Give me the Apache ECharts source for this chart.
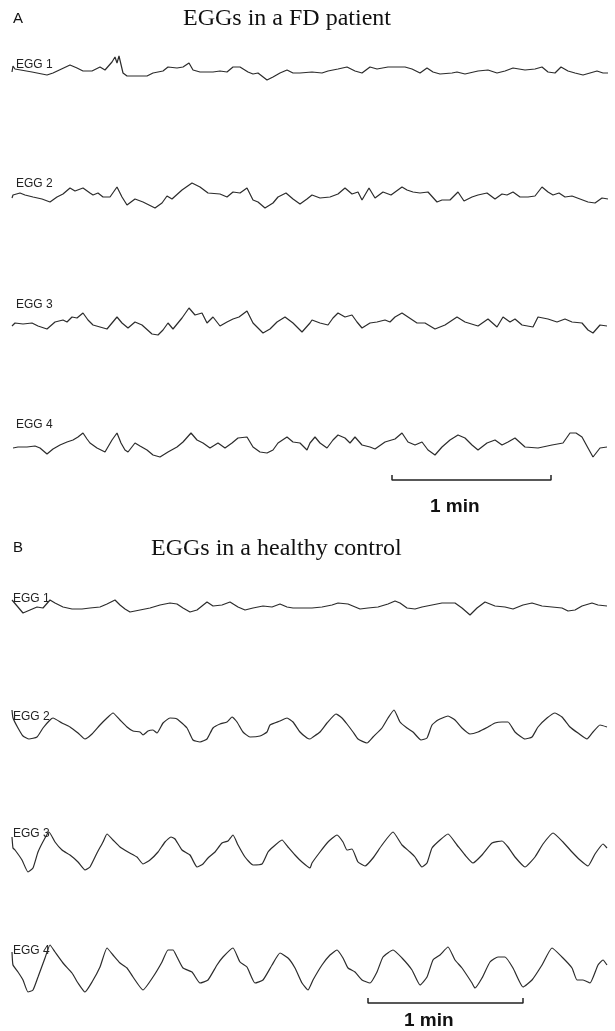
<!DOCTYPE html>
<html>
<head>
<meta charset="utf-8">
<title>EGGs</title>
<script src="https://cdn.jsdelivr.net/npm/echarts@6.0.0/dist/echarts.min.js"></script>
<style>
  html, body { margin: 0; padding: 0; background: #fff; }
  #chart { width: 615px; height: 1031px; }
</style>
</head>
<body>
<div id="chart"></div>
<script>
// traces: [time, amplitude] (time in trace units, 0..596)
var fdEgg1 = [[0,0],[1,6],[3,3],[20,0],[35,-3],[41,-1],[58,7],[65,4],[71,1],[80,1],[88,5],[93,2],[100,10],[103,15],[105,9],[107,16],[111,-1],[115,-4],[135,-4],[141,-1],[151,1],[156,5],[165,4],[171,5],[177,9],[181,2],[188,0],[201,0],[208,1],[215,0],[221,5],[228,5],[236,0],[241,-2],[246,-1],[255,-8],[261,-5],[268,-1],[275,2],[281,-1],[288,-1],[300,0],[310,-1],[316,1],[326,3],[335,5],[343,1],[350,-1],[358,5],[365,3],[376,5],[393,5],[400,3],[408,-1],[415,4],[421,0],[428,-2],[440,-1],[445,0],[453,-2],[466,1],[476,2],[485,-1],[493,1],[501,4],[513,2],[523,3],[530,5],[536,0],[543,-1],[549,5],[556,1],[563,-1],[571,-3],[578,-1],[585,1],[591,-1],[596,-1]];
var fdEgg2 = [[0,-1],[1,2],[3,3],[8,4],[13,2],[21,0],[30,-2],[38,-5],[45,0],[51,3],[58,9],[63,6],[71,9],[78,4],[81,2],[86,4],[91,0],[98,0],[105,10],[110,0],[115,-8],[123,-2],[131,-5],[143,-11],[150,-6],[155,1],[160,-2],[170,7],[180,14],[188,10],[196,4],[208,3],[215,0],[221,5],[228,4],[235,9],[241,-3],[246,-5],[253,-11],[261,-6],[266,0],[274,4],[281,-2],[288,-7],[295,-2],[300,2],[308,-1],[318,0],[326,3],[333,9],[340,3],[346,5],[350,-3],[357,9],[363,-1],[371,5],[379,2],[390,10],[395,7],[401,5],[408,4],[416,5],[425,-5],[430,-3],[438,-3],[446,5],[452,-4],[460,0],[466,2],[475,4],[483,-2],[490,3],[495,2],[501,5],[508,0],[516,0],[523,1],[530,10],[536,5],[541,2],[547,4],[553,0],[560,1],[568,-2],[576,-5],[583,-6],[590,-1],[596,-2]];
var fdEgg3 = [[0,-1],[1,0],[3,2],[11,1],[20,2],[26,-1],[35,-4],[43,3],[51,5],[55,3],[60,8],[65,7],[71,12],[76,5],[81,0],[88,-2],[95,-4],[105,8],[110,2],[116,-3],[123,3],[130,0],[140,-9],[146,-10],[151,-5],[156,2],[161,-4],[170,7],[177,17],[183,10],[190,12],[195,2],[201,8],[208,-1],[215,3],[221,6],[227,8],[235,14],[241,2],[251,-8],[258,-4],[265,3],[273,8],[281,2],[290,-7],[298,2],[300,5],[308,2],[316,0],[321,7],[326,12],[333,8],[340,10],[345,3],[350,-3],[358,2],[365,3],[373,5],[378,3],[383,8],[390,12],[396,8],[405,2],[413,2],[423,-4],[433,0],[445,8],[453,3],[466,-1],[476,6],[485,-2],[491,8],[498,3],[503,6],[510,0],[521,-2],[526,8],[536,6],[545,3],[553,6],[560,3],[570,2],[576,-5],[581,-8],[588,0],[595,-1]];
var fdEgg4 = [[1,0],[6,1],[15,1],[23,2],[28,0],[35,-6],[41,-1],[48,3],[55,6],[61,8],[66,11],[71,15],[75,9],[78,5],[85,0],[93,-4],[100,8],[105,15],[109,5],[113,-2],[116,-4],[123,5],[128,2],[135,-2],[141,-7],[148,-9],[156,-4],[165,1],[171,6],[179,15],[185,8],[191,5],[198,0],[206,5],[213,0],[220,5],[226,10],[235,11],[241,1],[248,-4],[255,-5],[261,-2],[266,5],[275,11],[281,6],[288,5],[295,-2],[298,5],[303,11],[308,5],[315,0],[321,8],[326,13],[333,10],[338,5],[343,11],[350,3],[358,1],[363,-1],[373,6],[383,9],[390,15],[396,6],[403,3],[410,6],[416,-2],[423,-7],[430,1],[438,8],[446,13],[453,10],[460,3],[466,-2],[475,5],[483,8],[490,3],[496,6],[503,10],[513,1],[526,0],[540,3],[551,5],[558,15],[564,15],[570,11],[576,0],[581,-9],[588,0],[595,1]];

var hcEgg1 = [[0,8],[11,-5],[25,1],[31,0],[38,8],[43,5],[51,1],[60,-1],[70,-1],[78,0],[88,1],[95,4],[103,8],[108,3],[113,-1],[118,-4],[128,-2],[138,0],[148,3],[158,5],[165,4],[171,0],[178,-4],[185,-2],[190,2],[195,6],[201,2],[210,3],[218,6],[226,1],[233,-2],[241,0],[251,2],[260,1],[268,4],[275,1],[281,0],[290,0],[300,0],[310,1],[320,3],[326,5],[336,4],[348,-1],[356,0],[366,1],[376,4],[383,7],[388,5],[395,0],[403,-1],[410,1],[420,3],[430,5],[443,5],[450,0],[458,-7],[465,0],[473,6],[483,2],[493,1],[501,-1],[511,3],[520,5],[530,2],[540,1],[550,0],[556,-3],[563,-2],[570,2],[580,5],[586,3],[595,2]];
var hcEgg2 = [[0,17],[1,9],[6,-1],[11,-9],[17,-12],[25,-10],[31,-1],[38,7],[41,9],[50,4],[58,0],[66,-6],[73,-12],[80,-7],[88,2],[95,9],[101,14],[108,7],[115,0],[121,-4],[128,-5],[131,-8],[136,-4],[141,-3],[145,-6],[151,4],[158,9],[165,8],[175,-1],[181,-13],[188,-15],[195,-12],[201,-1],[208,3],[215,5],[220,10],[225,5],[231,-5],[238,-10],[248,-9],[255,-5],[258,2],[268,6],[275,9],[281,5],[288,-5],[295,-11],[298,-12],[301,-10],[308,-5],[315,4],[324,13],[330,9],[335,3],[341,-5],[346,-12],[355,-16],[361,-10],[370,-1],[376,9],[382,17],[388,5],[395,-1],[401,-5],[409,-13],[415,-11],[420,2],[426,7],[436,11],[443,7],[450,-1],[458,-7],[466,-5],[476,0],[483,4],[490,5],[496,5],[503,-5],[513,-12],[520,-10],[526,0],[535,9],[543,14],[550,10],[558,0],[566,-6],[575,-12],[581,-5],[588,2],[595,0]];
var hcEgg3 = [[0,15],[1,4],[3,2],[10,-8],[16,-20],[21,-16],[26,0],[33,14],[37,20],[43,10],[50,2],[58,-3],[66,-10],[73,-18],[78,-15],[85,-1],[91,10],[95,18],[101,12],[108,5],[116,0],[125,-5],[131,-12],[138,-8],[146,0],[153,10],[159,15],[163,13],[170,2],[178,-3],[185,-15],[191,-12],[196,-6],[203,0],[210,9],[216,11],[221,17],[226,7],[233,-5],[241,-13],[250,-12],[256,0],[261,5],[270,12],[276,5],[283,-3],[290,-10],[298,-16],[300,-11],[308,0],[316,10],[325,17],[331,10],[335,2],[340,3],[346,-10],[353,-14],[361,-6],[370,7],[381,20],[390,7],[398,0],[403,-5],[410,-15],[415,-11],[420,4],[428,12],[436,18],[445,7],[453,-3],[461,-11],[470,-3],[480,9],[490,11],[496,5],[503,-5],[513,-15],[523,-5],[531,8],[541,19],[551,10],[560,0],[568,-8],[576,-14],[583,-2],[591,8],[595,4]];
var hcEgg4 = [[0,18],[1,5],[6,-2],[11,-10],[16,-22],[21,-20],[26,-7],[33,12],[38,25],[43,18],[51,7],[60,-3],[66,-13],[73,-22],[80,-12],[88,3],[95,22],[101,15],[108,7],[115,2],[121,-7],[131,-20],[141,-7],[150,8],[156,20],[161,20],[165,13],[171,2],[180,-2],[188,-13],[196,-10],[205,5],[211,13],[221,22],[228,8],[235,3],[243,-13],[251,-10],[260,5],[268,17],[276,12],[283,2],[290,-13],[296,-20],[301,-10],[310,5],[318,15],[325,20],[331,12],[336,2],[343,-2],[350,-10],[358,-13],[365,-2],[371,13],[381,20],[390,12],[400,0],[408,-15],[415,-7],[421,10],[428,15],[436,23],[443,10],[450,2],[460,-13],[463,-18],[470,-8],[478,8],[486,13],[493,13],[501,2],[511,-17],[520,-10],[530,5],[540,22],[550,13],[560,2],[565,-10],[571,-10],[578,-13],[586,5],[591,10],[595,5]];

var channelNames = ['EGG 1', 'EGG 2', 'EGG 3', 'EGG 4'];
var panelTitles = ['EGGs in a FD patient', 'EGGs in a healthy control'];
var panelLetters = ['A', 'B'];
var scaleLabel = '1 min';
// 1 min scale bar, [start, end] in trace time units
var scaleBarA = [380, 539];
var scaleBarB = [356, 511];

// layout (pixels)
var traceBase = [72, 197, 325, 448, 608, 727, 852, 970];
var labelY = [66, 185, 306, 426, 600, 718, 835, 952];
var halfH = 30;

var traces = [fdEgg1, fdEgg2, fdEgg3, fdEgg4, hcEgg1, hcEgg2, hcEgg3, hcEgg4];

var grids = [], xAxes = [], yAxes = [], series = [], graphics = [];

traces.forEach(function (d, i) {
    grids.push({left: 12, width: 596, top: traceBase[i] - halfH, height: halfH * 2});
    xAxes.push({type: 'value', gridIndex: i, min: 0, max: 596, show: false});
    yAxes.push({type: 'value', gridIndex: i, min: -halfH, max: halfH, show: false});
    series.push({
        type: 'line',
        xAxisIndex: i,
        yAxisIndex: i,
        data: d,
        showSymbol: false,
        silent: true,
        // healthy control waves are a bit rounder
        smooth: i >= 5 ? 0.15 : false,
        lineStyle: {color: '#2b2b2b', width: 1.2}
    });
    graphics.push({
        type: 'text',
        left: i < 4 ? 16 : 13,
        top: labelY[i] - 7,
        style: {text: channelNames[i % 4], font: '12px "Liberation Sans"', fill: '#222'}
    });
});

// scale bars, one grid each
[[scaleBarA, 480], [scaleBarB, 1003]].forEach(function (s, k) {
    var gi = 8 + k;
    grids.push({left: 12, width: 596, top: s[1] - 10, height: 20});
    xAxes.push({type: 'value', gridIndex: gi, min: 0, max: 596, show: false});
    yAxes.push({type: 'value', gridIndex: gi, min: -10, max: 10, show: false});
    series.push({
        type: 'line',
        xAxisIndex: gi,
        yAxisIndex: gi,
        data: [[s[0][0], 5], [s[0][0], 0], [s[0][1], 0], [s[0][1], 5]],
        showSymbol: false,
        silent: true,
        lineStyle: {color: '#222', width: 1.5}
    });
});

// panel headings and scale labels
graphics.push(
    {type: 'text', left: 13, top: 11, style: {text: panelLetters[0], font: '15px "Liberation Sans"', fill: '#111'}},
    {type: 'text', left: 183, top: 7, style: {text: panelTitles[0], font: '24px "Liberation Serif"', fill: '#111'}},
    {type: 'text', left: 430, top: 497, style: {text: scaleLabel, font: 'bold 19px "Liberation Sans"', fill: '#111'}},
    {type: 'text', left: 13, top: 540, style: {text: panelLetters[1], font: '15px "Liberation Sans"', fill: '#111'}},
    {type: 'text', left: 151, top: 537, style: {text: panelTitles[1], font: '24px "Liberation Serif"', fill: '#111'}},
    {type: 'text', left: 404, top: 1011, style: {text: scaleLabel, font: 'bold 19px "Liberation Sans"', fill: '#111'}}
);

var chart = echarts.init(document.getElementById('chart'), null, {renderer: 'canvas'});
chart.setOption({
    animation: false,
    backgroundColor: '#fff',
    grid: grids,
    xAxis: xAxes,
    yAxis: yAxes,
    series: series,
    graphic: graphics
});
window.addEventListener('resize', function () { chart.resize(); });
</script>
</body>
</html>
